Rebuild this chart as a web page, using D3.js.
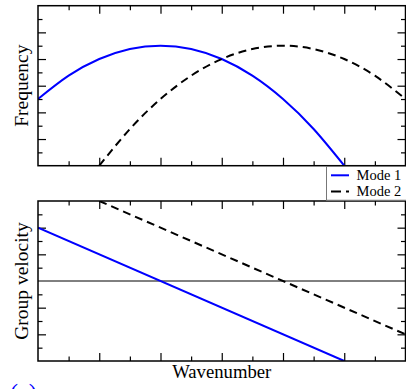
<!DOCTYPE html>
<html>
<head>
<meta charset="utf-8">
<script src="https://cdn.jsdelivr.net/npm/d3@7"></script>
<style>
  html, body { margin: 0; padding: 0; background: #fff; }
  svg { display: block; }
  svg text { font-family: "Liberation Serif", "Times New Roman", Times, serif; }
</style>
</head>
<body>
<div id="chart"></div>
<script>
// wavenumber samples and values
const kMode1 = [0, 0.5, 1, 1.5, 2, 2.5, 3, 3.5, 4, 4.5, 5];
const freqMode1 = [2.5, 3.375, 4, 4.375, 4.5, 4.375, 4, 3.375, 2.5, 1.375, 0];
const kMode2 = [1, 1.5, 2, 2.5, 3, 3.5, 4, 4.5, 5, 5.5, 6];
const freqMode2 = [0, 1.375, 2.5, 3.375, 4, 4.375, 4.5, 4.375, 4, 3.375, 2.5];
const kVelMode1 = [0, 5];
const velMode1 = [2, -3];
const kVelMode2 = [1, 6];
const velMode2 = [3, -2];

const xMajor = [1, 2, 3, 4, 5];
const xMinor = [0.5, 1.5, 2.5, 3.5, 4.5, 5.5];
const freqMajor = [1, 2, 3, 4, 5];
const freqMinor = [0.5, 1.5, 2.5, 3.5, 4.5, 5.5];
const velMajor = [-2, -1, 1, 2];
const velMinor = [-2.5, -1.5, -0.5, 0.5, 1.5, 2.5];
const legendLabels = ['Mode 1', 'Mode 2'];

const W = 406, H = 389;
const left = 38, right = 405.5;
const top1 = 5.7, bot1 = 165.7;
const top2 = 201, bot2 = 361;
const MAJ = 8, MIN = 4.5;

const svg = d3.select('#chart').append('svg')
  .attr('width', W)
  .attr('height', H);

const x = d3.scaleLinear().domain([0, 6]).range([left, right]);
const yFreq = d3.scaleLinear().domain([0, 6]).range([bot1, top1]);
const yVel = d3.scaleLinear().domain([-3, 3]).range([bot2, top2]);

const defs = svg.append('defs');
defs.append('clipPath').attr('id', 'clip1')
  .append('rect').attr('x', left).attr('y', top1).attr('width', right - left).attr('height', bot1 - top1);
defs.append('clipPath').attr('id', 'clip2')
  .append('rect').attr('x', left).attr('y', top2).attr('width', right - left).attr('height', bot2 - top2);

function drawTicks(g, axisFn, scale, values, size, transform) {
  g.append('g')
    .attr('transform', transform)
    .call(axisFn(scale).tickValues(values).tickSize(size).tickSizeOuter(0).tickFormat(''))
    .call(s => s.select('.domain').remove())
    .selectAll('line').attr('stroke', '#000').attr('stroke-width', 1.2);
}

function panel(yScale, yTop, yBot, yMaj, yMin) {
  const g = svg.append('g');
  // inward ticks on all four sides
  [[xMajor, MAJ], [xMinor, MIN]].forEach(([vals, sz]) => {
    drawTicks(g, d3.axisBottom, x, vals, sz, `translate(0,${yTop})`);
    drawTicks(g, d3.axisTop, x, vals, sz, `translate(0,${yBot})`);
  });
  [[yMaj, MAJ], [yMin, MIN]].forEach(([vals, sz]) => {
    drawTicks(g, d3.axisRight, yScale, vals, sz, `translate(${left},0)`);
    drawTicks(g, d3.axisLeft, yScale, vals, sz, `translate(${right},0)`);
  });
  return g;
}

panel(yFreq, top1, bot1, freqMajor, freqMinor);
panel(yVel, top2, bot2, velMajor, velMinor);

// zero line in the group velocity panel
svg.append('line')
  .attr('x1', left).attr('x2', right)
  .attr('y1', yVel(0)).attr('y2', yVel(0))
  .attr('stroke', '#000').attr('stroke-width', 1);

const lineF = d3.line().x(d => x(d[0])).y(d => yFreq(d[1])).curve(d3.curveNatural);
const lineV = d3.line().x(d => x(d[0])).y(d => yVel(d[1]));

const curves1 = svg.append('g').attr('clip-path', 'url(#clip1)');
curves1.append('path')
  .datum(d3.zip(kMode1, freqMode1))
  .attr('d', lineF).attr('fill', 'none')
  .attr('stroke', '#0000ff').attr('stroke-width', 2);
curves1.append('path')
  .datum(d3.zip(kMode2, freqMode2))
  .attr('d', lineF).attr('fill', 'none')
  .attr('stroke', '#000').attr('stroke-width', 2)
  .attr('stroke-dasharray', '8,5');

const curves2 = svg.append('g').attr('clip-path', 'url(#clip2)');
curves2.append('path')
  .datum(d3.zip(kVelMode1, velMode1))
  .attr('d', lineV).attr('fill', 'none')
  .attr('stroke', '#0000ff').attr('stroke-width', 2);
curves2.append('path')
  .datum(d3.zip(kVelMode2, velMode2))
  .attr('d', lineV).attr('fill', 'none')
  .attr('stroke', '#000').attr('stroke-width', 2)
  .attr('stroke-dasharray', '8,5');

// panel frames
[[top1, bot1], [top2, bot2]].forEach(([t, b]) => {
  svg.append('rect')
    .attr('x', left).attr('y', t)
    .attr('width', right - left).attr('height', b - t)
    .attr('fill', 'none').attr('stroke', '#000').attr('stroke-width', 1.5);
});

// legend between the panels
const lg = svg.append('g');
lg.append('rect')
  .attr('x', 326.5).attr('y', bot1 + 0.75)
  .attr('width', W - 326.5 + 2).attr('height', top2 - bot1 - 1.5)
  .attr('fill', '#fff').attr('stroke', '#777').attr('stroke-width', 1);
legendLabels.forEach((lab, i) => {
  const yy = 175.3 + i * 16.2;
  lg.append('line')
    .attr('x1', 331).attr('x2', 349).attr('y1', yy).attr('y2', yy)
    .attr('stroke', i === 0 ? '#0000ff' : '#000').attr('stroke-width', 2)
    .attr('stroke-dasharray', i === 0 ? null : '10,5');
  lg.append('text')
    .attr('x', 356.5).attr('y', yy + 4.2)
    .style('font-size', '14.5px')
    .attr('fill', '#000')
    .text(lab);
});

// axis titles
svg.append('text')
  .attr('transform', `translate(28,${(top1 + bot1) / 2}) rotate(-90)`)
  .attr('text-anchor', 'middle')
  .style('font-size', '19.5px')
  .text('Frequency');
svg.append('text')
  .attr('transform', `translate(28,${(top2 + bot2) / 2}) rotate(-90)`)
  .attr('text-anchor', 'middle')
  .style('font-size', '19.5px')
  .text('Group velocity');
svg.append('text')
  .attr('x', (left + right) / 2).attr('y', 378)
  .attr('text-anchor', 'middle')
  .style('font-size', '18.7px')
  .text('Wavenumber');

// panel tag, cut off at the bottom edge as in the reference
svg.append('text')
  .attr('x', 10).attr('y', 400)
  .style('font-size', '24px')
  .attr('fill', '#0000ff')
  .text('(a)');
</script>
</body>
</html>
